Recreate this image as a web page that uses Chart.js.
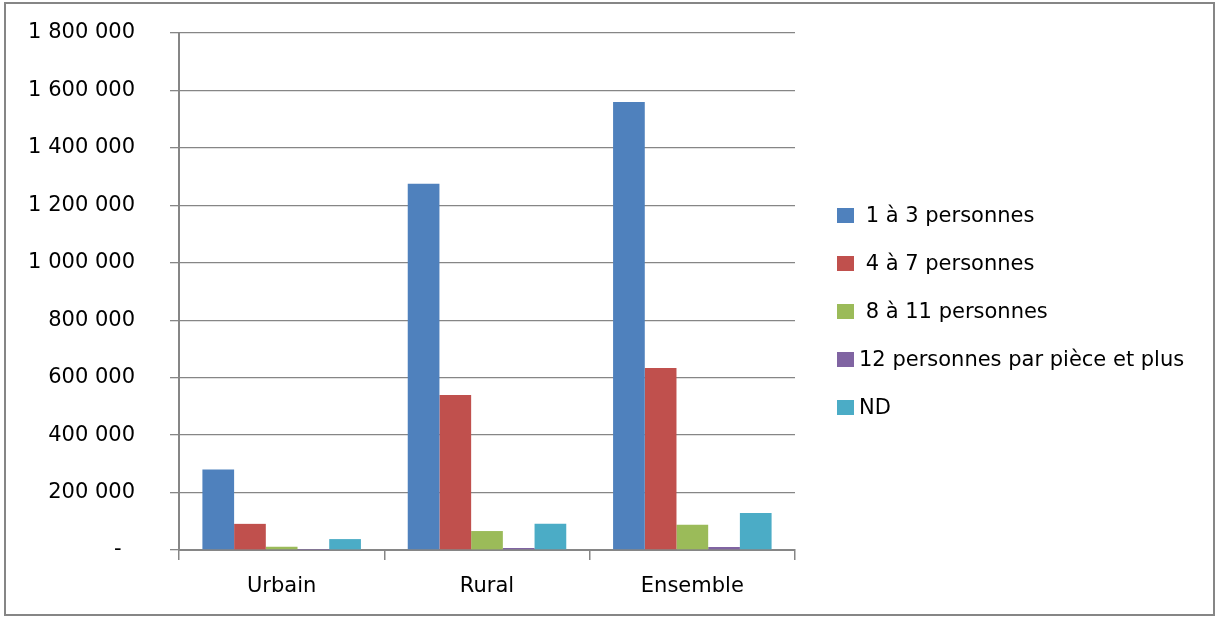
<!DOCTYPE html>
<html>
<head>
<meta charset="utf-8">
<script src="https://cdn.jsdelivr.net/npm/chart.js@4"></script>
<style>
  html, body { margin:0; padding:0; background:#fff; }
  #wrap { position:absolute; left:0; top:0; width:1216px; height:617px; }
  #frame { position:absolute; left:4px; top:2px; width:1207px; height:610px;
    border:2px solid #868686; pointer-events:none; }
  #legend { position:absolute; left:837px; top:203px; margin:0; padding:0; list-style:none;
    font-family:'DejaVu Sans'; font-size:21px; color:#000; }
  #legend li { height:48px; display:flex; align-items:flex-start; }
  #legend .row { display:flex; align-items:center; height:24px; }
  #legend .box { width:17px; height:15px; margin-right:5px; flex:none; }
  #legend .txt { white-space:pre; line-height:24px; }
</style>
</head>
<body>
<div id="wrap"><canvas id="chart" width="1216" height="617"></canvas></div>
<ul id="legend"></ul>
<div id="frame"></div>
<script>
const categories = ['Urbain', 'Rural', 'Ensemble'];
const seriesNames = [' 1 à 3 personnes', ' 4 à 7 personnes', ' 8 à 11 personnes',
  '12 personnes par pièce et plus', 'ND'];
const seriesColors = ['#4F81BD', '#C0504D', '#9BBB59', '#8064A2', '#4BACC6'];

const pers1to3   = [280000, 1275000, 1560000];
const pers4to7   = [91000, 540000, 634000];
const pers8to11  = [11000, 66000, 88000];
const pers12plus = [1000, 7000, 10500];
const persND     = [38000, 91000, 129000];

const yMax  = 1800000;
const yStep = 200000;

const FONT = 'DejaVu Sans';
const GRID = '#868686';

function fmt(v) {
  if (v === 0) return '-  ';
  return String(v).replace(/\B(?=(\d{3})+(?!\d))/g, ' ');
}

const values = [pers1to3, pers4to7, pers8to11, pers12plus, persND];
const datasets = seriesNames.map((name, i) => ({
  label: name,
  data: values[i],
  backgroundColor: seriesColors[i],
  borderWidth: 0,
  categoryPercentage: 0.772,
  barPercentage: 1.0
}));

// legend is too wide for chart.js's right-box limit, so build it as html from the datasets
const htmlLegend = {
  id: 'htmlLegend',
  afterUpdate(chart) {
    const ul = document.getElementById('legend');
    ul.innerHTML = '';
    chart.data.datasets.forEach(ds => {
      const li = document.createElement('li');
      li.innerHTML = `<div class="row"><span class="box" style="background:${ds.backgroundColor}"></span><span class="txt"></span></div>`;
      li.querySelector('.txt').textContent = ds.label;
      ul.appendChild(li);
    });
  }
};

new Chart(document.getElementById('chart'), {
  type: 'bar',
  data: { labels: categories, datasets },
  plugins: [htmlLegend],
  options: {
    responsive: false,
    animation: false,
    layout: { padding: { left: 0, top: 33, right: 421, bottom: 5 } },
    plugins: {
      tooltip: { enabled: false },
      legend: { display: false }
    },
    scales: {
      x: {
        grid: { display: true, drawOnChartArea: false, drawTicks: true, tickLength: 10, color: GRID, lineWidth: 1.5 },
        border: { display: true, color: GRID, width: 2 },
        ticks: { color: '#000', font: { family: FONT, size: 21 }, padding: 14 },
        afterFit: s => { s.height = 62; }
      },
      y: {
        min: 0, max: yMax,
        grid: { color: GRID, lineWidth: 1.3, tickLength: 9 },
        border: { display: true, color: GRID, width: 2 },
        ticks: { stepSize: yStep, color: '#000', font: { family: FONT, size: 21 }, padding: 35, callback: v => fmt(v) },
        afterFit: s => { s.width = 179; s.paddingTop = 0; s.paddingBottom = 0; }
      }
    }
  }
});
</script>
</body>
</html>
